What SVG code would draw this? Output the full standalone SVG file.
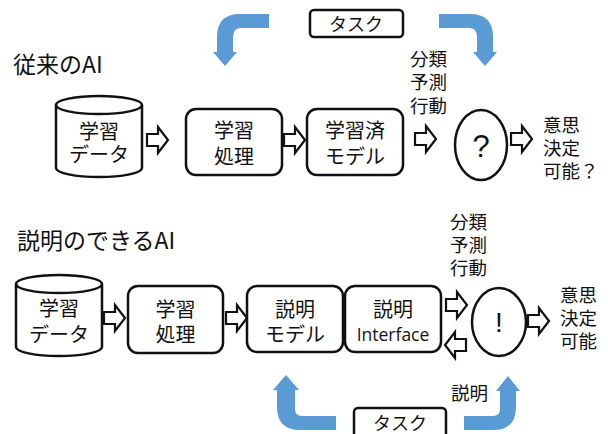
<svg xmlns="http://www.w3.org/2000/svg" width="608" height="434" viewBox="0 0 608 434">
<defs>
<style>
text{font-family:"Noto Sans CJK JP","Liberation Sans",sans-serif;fill:#111;}
.t{font-size:20px;text-anchor:middle;}
.s{font-size:18.5px;}
.h{font-size:23px;}
.box{fill:#fff;stroke:#111;stroke-width:2.5;}
.cyl{fill:#fff;stroke:#111;stroke-width:2.5;}
.blue{fill:#5B9BD5;stroke:none;}
.ha{fill:#fff;stroke:#111;stroke-width:2.2;stroke-linejoin:miter;}
</style>
<path id="ha" d="M0,-6 H11 V-13 L21,0 L11,13 V6 H0 Z"/>
</defs>

<text class="h" x="13" y="73">従来のAI</text>
<text class="h" x="17" y="249">説明のできるAI</text>

<g id="connectors">
<use href="#ha" class="ha" transform="translate(147,140)"/>
<use href="#ha" class="ha" transform="translate(284,140)"/>
<use href="#ha" class="ha" transform="translate(415,139)"/>
<use href="#ha" class="ha" transform="translate(511,139)"/>
<use href="#ha" class="ha" transform="translate(104,318)"/>
<use href="#ha" class="ha" transform="translate(226,318)"/>
<use href="#ha" class="ha" transform="translate(446,305)"/>
<use href="#ha" class="ha" transform="translate(466,345) scale(-1,1)"/>
<use href="#ha" class="ha" transform="translate(528,321)"/>
<path class="blue" d="M269,14 H240 Q217,14 217,37 V52 H213 L225,66 L237,52 H233 V37 Q233,28 241,28 H269 Z"/>
<path class="blue" d="M439,14 H470 Q493,14 493,37 V52 H497 L485,66 L473,52 H477 V37 Q477,28 469,28 H439 Z"/>
<path class="blue" d="M336,430 H300 Q277,430 277,407 V390 H273 L286,375 L299,390 H295 V409 Q295,416 302,416 H336 Z"/>
<path class="blue" d="M464,430 H493 Q516,430 516,407 V391 H520 L508,376 L496,391 H500 V409 Q500,416 493,416 H464 Z"/>
</g>

<g id="task-top">
<rect class="box" x="310" y="10" width="93" height="27" rx="4"/>
<text class="t" x="356" y="31" style="font-size:18px">タスク</text>
</g>

<g id="data1">
<path class="cyl" d="M56,105 V168 A43,9 0 0 0 142,168 V105"/>
<ellipse class="cyl" cx="99" cy="105" rx="43" ry="9"/>
<text class="t" x="99" y="139">学習</text>
<text class="t" x="99" y="162">データ</text>
</g>

<g id="learn1">
<rect class="box" x="186" y="109" width="96" height="66" rx="10"/>
<text class="t" x="234" y="138">学習</text>
<text class="t" x="234" y="164">処理</text>
</g>

<g id="model1">
<rect class="box" x="307" y="109" width="96" height="66" rx="10"/>
<text class="t" x="355" y="138">学習済</text>
<text class="t" x="355" y="164">モデル</text>
</g>

<g id="out1">
<text class="s" x="410" y="66">分類</text>
<text class="s" x="410" y="89">予測</text>
<text class="s" x="410" y="113">行動</text>
</g>

<g id="q">
<ellipse class="box" cx="481" cy="145" rx="26" ry="35"/>
<text x="481" y="157" style="font-size:31px;text-anchor:middle;font-family:'Liberation Sans',sans-serif">?</text>
</g>

<g id="decide1">
<text class="s" x="543" y="132">意思</text>
<text class="s" x="543" y="155">決定</text>
<text class="s" x="543" y="178">可能？</text>
</g>

<g id="data2">
<path class="cyl" d="M16,284 V347 A43,9 0 0 0 102,347 V284"/>
<ellipse class="cyl" cx="59" cy="284" rx="43" ry="9"/>
<text class="t" x="59" y="316">学習</text>
<text class="t" x="59" y="342">データ</text>
</g>

<g id="learn2">
<rect class="box" x="128" y="286" width="95" height="67" rx="10"/>
<text class="t" x="175.5" y="317">学習</text>
<text class="t" x="175.5" y="342">処理</text>
</g>

<g id="model2">
<rect class="box" x="247" y="286" width="96" height="66" rx="10"/>
<text class="t" x="295" y="317">説明</text>
<text class="t" x="295" y="342">モデル</text>
</g>

<g id="iface">
<rect class="box" x="345" y="286" width="96" height="66" rx="10"/>
<text class="t" x="393" y="317">説明</text>
<text x="393" y="341" style="font-size:17.5px;text-anchor:middle;font-family:'Open Sans','Liberation Sans',sans-serif">Interface</text>
</g>

<g id="out2">
<text class="s" x="450" y="229">分類</text>
<text class="s" x="450" y="252">予測</text>
<text class="s" x="450" y="275">行動</text>
</g>

<g id="ex">
<ellipse class="box" cx="499" cy="322" rx="27" ry="34"/>
<text x="499" y="332" style="font-size:28px;text-anchor:middle;font-family:'Liberation Sans',sans-serif">!</text>
</g>

<g id="decide2">
<text class="s" x="560" y="302">意思</text>
<text class="s" x="560" y="325">決定</text>
<text class="s" x="560" y="348">可能</text>
</g>

<g id="explain">
<text class="s" x="451" y="400">説明</text>
</g>

<g id="task-bottom">
<rect class="box" x="354" y="408" width="92" height="40" rx="4"/>
<text class="t" x="400" y="430" style="font-size:18px">タスク</text>
</g>
</svg>
